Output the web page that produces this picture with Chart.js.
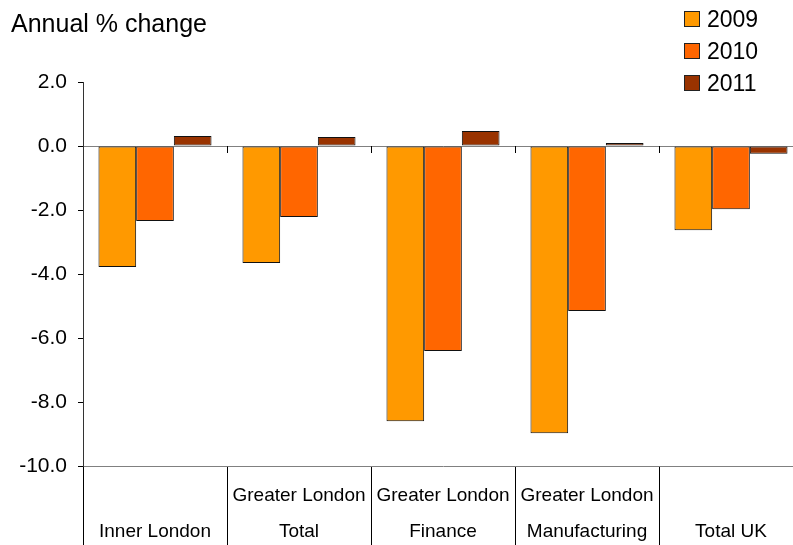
<!DOCTYPE html>
<html>
<head>
<meta charset="utf-8">
<script src="https://cdn.jsdelivr.net/npm/chart.js@4/dist/chart.umd.min.js"></script>
<style>
  body { margin: 0; background: #fff; overflow: hidden; font-family: "Liberation Sans", Arial, sans-serif; }
  #wrap { position: relative; width: 793px; height: 545px; overflow: hidden; }
  #title { position: absolute; left: 11px; top: 11px; font-size: 25px; line-height: 25px; color: #000; }
  #legend { position: absolute; left: 684px; top: 3px; }
  .item { display: flex; align-items: center; height: 32px; font-size: 23px; color: #000; }
  .box { width: 14px; height: 14px; border: 1px solid #222; margin-right: 7px; }
</style>
</head>
<body>
<div id="wrap">
  <canvas id="chart" width="810" height="545"></canvas>
  <div id="title">Annual % change</div>
  <div id="legend"></div>
</div>
<script>
const categories = [
    ["", "Inner London"],
    ["Greater London", "Total"],
    ["Greater London", "Finance"],
    ["Greater London", "Manufacturing"],
    ["", "Total UK"]
];
const years = ["2009", "2010", "2011"];
const values2009 = [-3.78, -3.66, -8.60, -8.98, -2.63];
const values2010 = [-2.34, -2.22, -6.41, -5.16, -1.98];
const values2011 = [0.31, 0.28, 0.47, 0.09, -0.24];
const colors = ["#FF9900", "#FF6600", "#993300"];

const font = "'Liberation Sans', Arial, sans-serif";

// small ticks on the zero line between categories
const zeroTicks = {
    id: "zeroTicks",
    afterDatasetsDraw(chart) {
        const xs = chart.scales.x, ys = chart.scales.y;
        const y0 = ys.getPixelForValue(0);
        const ctx = chart.ctx;
        ctx.save();
        ctx.strokeStyle = "#000";
        ctx.lineWidth = 1;
        for (let i = 1; i <= categories.length; i++) {
            const x = Math.round(xs.getPixelForValue(i - 0.5)) + 0.5;
            ctx.beginPath();
            ctx.moveTo(x, y0);
            ctx.lineTo(x, y0 + 7);
            ctx.stroke();
        }
        ctx.restore();
    }
};

const chart = new Chart(document.getElementById("chart"), {
    type: "bar",
    data: {
        labels: categories,
        datasets: [values2009, values2010, values2011].map((d, i) => ({
            label: years[i],
            data: d,
            backgroundColor: colors[i],
            borderColor: "#111",
            borderWidth: 1,
            borderSkipped: false,
            categoryPercentage: 0.785,
            barPercentage: 1
        }))
    },
    options: {
        responsive: false,
        animation: false,
        layout: { padding: { top: 82, right: 7, bottom: 0, left: 0 } },
        plugins: {
            legend: { display: false },
            tooltip: { enabled: false }
        },
        scales: {
            x: {
                afterFit: s => { s.height = 79; },
                grid: {
                    offset: true,
                    drawOnChartArea: false,
                    tickLength: 79,
                    tickColor: "#000"
                },
                border: { display: true, color: "#808080" },
                ticks: {
                    autoSkip: false,
                    maxRotation: 0,
                    padding: -67,
                    color: "#000",
                    font: { family: font, size: 19, lineHeight: "36px" }
                }
            },
            y: {
                min: -10,
                max: 2,
                afterFit: s => { s.width = 83; },
                grid: {
                    color: c => c.tick && c.tick.value === 0 ? "#808080" : "rgba(0,0,0,0)",
                    tickColor: "#000",
                    tickLength: 5
                },
                border: { display: true, color: "#333" },
                ticks: {
                    stepSize: 2,
                    padding: 11,
                    color: "#000",
                    font: { family: font, size: 21 },
                    callback: v => v.toFixed(1)
                }
            }
        }
    },
    plugins: [zeroTicks]
});

const legend = document.getElementById("legend");
chart.data.datasets.forEach(ds => {
    const row = document.createElement("div");
    row.className = "item";
    const box = document.createElement("span");
    box.className = "box";
    box.style.background = ds.backgroundColor;
    row.appendChild(box);
    row.appendChild(document.createTextNode(ds.label));
    legend.appendChild(row);
});
</script>
</body>
</html>
